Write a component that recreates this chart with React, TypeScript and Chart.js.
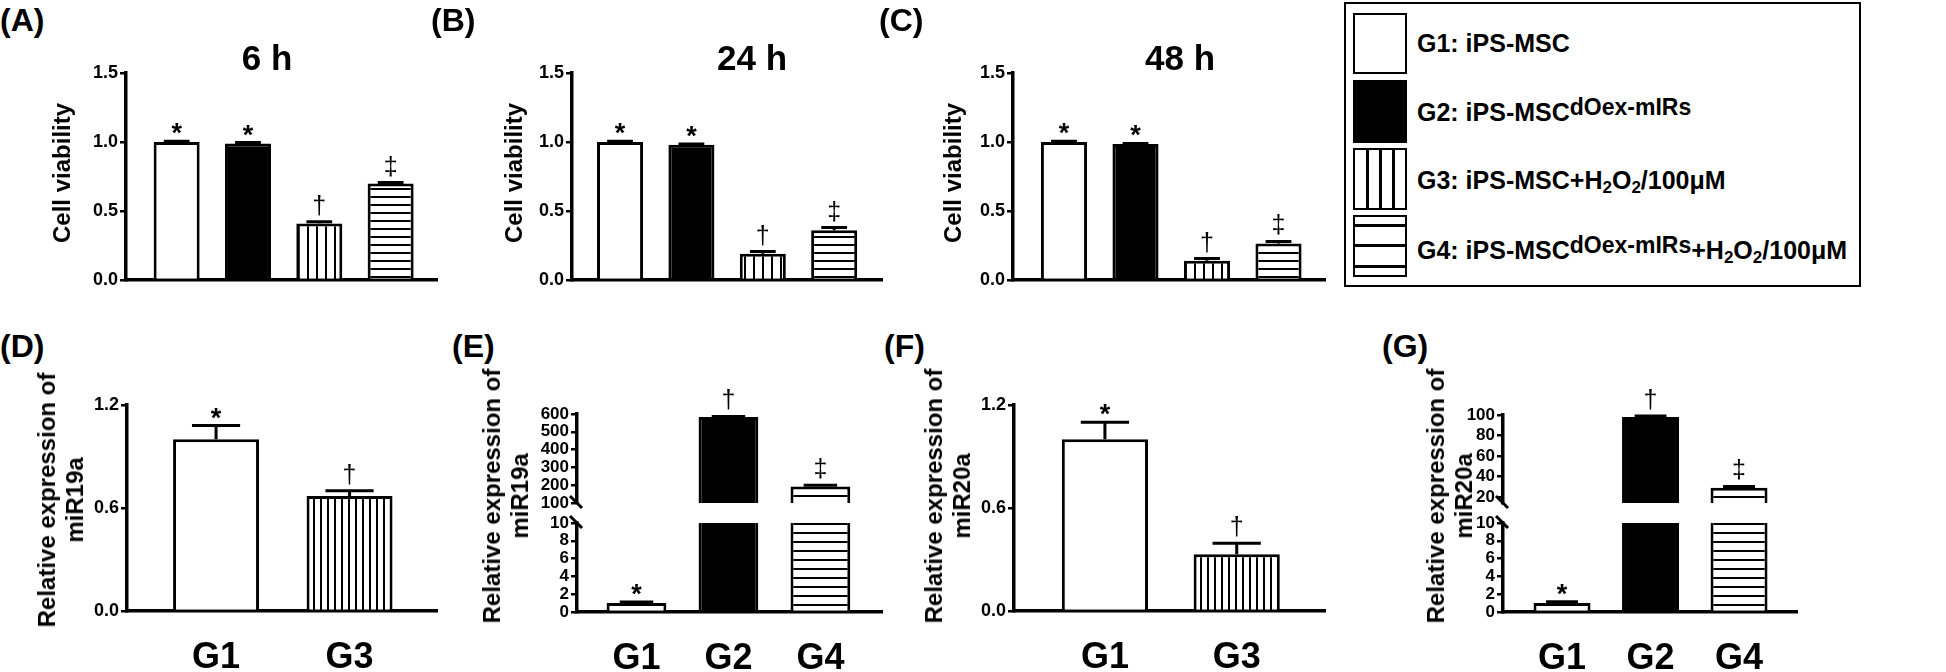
import React, { useEffect, useRef } from 'react';
import { Chart, registerables } from 'chart.js';

Chart.register(...registerables);

const FONT = '"Liberation Sans", Arial, Helvetica, sans-serif';

// ---------------- Data ----------------
const viabilityGroups = ['G1', 'G2', 'G3', 'G4'];
const viabilitySymbols = ['*', '*', '†', '‡'];
const viabilityTicks = [0, 0.5, 1.0, 1.5];
const viability6h = [1.0, 0.99, 0.41, 0.7];
const viability6hErr = [0.005, 0.006, 0.012, 0.006];
const viability24h = [1.0, 0.98, 0.19, 0.36];
const viability24hErr = [0.005, 0.006, 0.016, 0.02];
const viability48h = [1.0, 0.985, 0.14, 0.265];
const viability48hErr = [0.005, 0.005, 0.015, 0.014];

const pairGroups = ['G1', 'G3'];
const pairSymbols = ['*', '†'];
const pairTicks = [0, 0.6, 1.2];
const miR19aPair = [1.0, 0.67];
const miR19aPairErr = [0.08, 0.03];
const miR20aPair = [1.0, 0.33];
const miR20aPairErr = [0.1, 0.065];

const tripleGroups = ['G1', 'G2', 'G4'];
const tripleSymbols = ['*', '†', '‡'];
const lowTicks = [0, 2, 4, 6, 8, 10];
const miR19aHighTicks = [100, 200, 300, 400, 500, 600];
const miR19aTriple = [1.0, 583, 193];
const miR19aTripleErr = [0.12, 3, 7];
const miR20aHighTicks = [20, 40, 60, 80, 100];
const miR20aTriple = [1.0, 98, 29];
const miR20aTripleErr = [0.15, 1, 1.2];

// ---------------- Layout specs ----------------
type Area = { left: number; top: number; right: number; bottom: number };
type Spec = {
  id: string;
  labels: string[];
  values: number[];
  errors: number[];
  symbols: string[];
  ticks: number[];
  yMin: number;
  yMax: number;
  dec: number;
  tickFont: number;
  area: Area;
  xMin: number;
  xMax: number;
  barPct: number;
  xAxis: 'line' | 'labels' | 'none';
  segment?: 'upper' | 'lower';
  hatchV: number;
  hatchH: number;
};

const specs: Spec[] = [
  {
    id: 'A', labels: viabilityGroups, values: viability6h, errors: viability6hErr, symbols: viabilitySymbols,
    ticks: viabilityTicks, yMin: 0, yMax: 1.5, dec: 1, tickFont: 18,
    area: { left: 126, top: 73, right: 437, bottom: 280 }, xMin: -0.71, xMax: 3.65, barPct: 0.645,
    xAxis: 'line', hatchV: 9, hatchH: 8,
  },
  {
    id: 'B', labels: viabilityGroups, values: viability24h, errors: viability24hErr, symbols: viabilitySymbols,
    ticks: viabilityTicks, yMin: 0, yMax: 1.5, dec: 1, tickFont: 18,
    area: { left: 572, top: 73, right: 882, bottom: 280 }, xMin: -0.673, xMax: 3.67, barPct: 0.645,
    xAxis: 'line', hatchV: 9, hatchH: 8,
  },
  {
    id: 'C', labels: viabilityGroups, values: viability48h, errors: viability48hErr, symbols: viabilitySymbols,
    ticks: viabilityTicks, yMin: 0, yMax: 1.5, dec: 1, tickFont: 18,
    area: { left: 1013, top: 73, right: 1325, bottom: 280 }, xMin: -0.713, xMax: 3.65, barPct: 0.645,
    xAxis: 'line', hatchV: 9, hatchH: 8,
  },
  {
    id: 'D', labels: pairGroups, values: miR19aPair, errors: miR19aPairErr, symbols: pairSymbols,
    ticks: pairTicks, yMin: 0, yMax: 1.2, dec: 1, tickFont: 18,
    area: { left: 127, top: 405, right: 437, bottom: 611 }, xMin: -0.667, xMax: 1.655, barPct: 0.644,
    xAxis: 'labels', hatchV: 7, hatchH: 8,
  },
  {
    id: 'E-upper', labels: tripleGroups, values: miR19aTriple, errors: miR19aTripleErr, symbols: tripleSymbols,
    ticks: miR19aHighTicks, yMin: 100, yMax: 600, dec: 0, tickFont: 17,
    area: { left: 577, top: 414, right: 882, bottom: 503 }, xMin: -0.647, xMax: 2.67, barPct: 0.65,
    xAxis: 'none', segment: 'upper', hatchV: 7, hatchH: 9,
  },
  {
    id: 'E-lower', labels: tripleGroups, values: miR19aTriple, errors: miR19aTripleErr, symbols: tripleSymbols,
    ticks: lowTicks, yMin: 0, yMax: 10, dec: 0, tickFont: 17,
    area: { left: 577, top: 523, right: 882, bottom: 612 }, xMin: -0.647, xMax: 2.67, barPct: 0.65,
    xAxis: 'labels', segment: 'lower', hatchV: 7, hatchH: 9,
  },
  {
    id: 'F', labels: pairGroups, values: miR20aPair, errors: miR20aPairErr, symbols: pairSymbols,
    ticks: pairTicks, yMin: 0, yMax: 1.2, dec: 1, tickFont: 18,
    area: { left: 1014, top: 405, right: 1325, bottom: 611 }, xMin: -0.69, xMax: 1.67, barPct: 0.654,
    xAxis: 'labels', hatchV: 7, hatchH: 8,
  },
  {
    id: 'G-upper', labels: tripleGroups, values: miR20aTriple, errors: miR20aTripleErr, symbols: tripleSymbols,
    ticks: miR20aHighTicks, yMin: 14, yMax: 100, dec: 0, tickFont: 17,
    area: { left: 1503, top: 415, right: 1797, bottom: 503 }, xMin: -0.667, xMax: 2.655, barPct: 0.644,
    xAxis: 'none', segment: 'upper', hatchV: 7, hatchH: 9,
  },
  {
    id: 'G-lower', labels: tripleGroups, values: miR20aTriple, errors: miR20aTripleErr, symbols: tripleSymbols,
    ticks: lowTicks, yMin: 0, yMax: 10, dec: 0, tickFont: 17,
    area: { left: 1503, top: 523, right: 1797, bottom: 612 }, xMin: -0.667, xMax: 2.655, barPct: 0.644,
    xAxis: 'labels', segment: 'lower', hatchV: 7, hatchH: 9,
  },
];

function makePattern(ctx: CanvasRenderingContext2D, kind: 'v' | 'h', spacing: number) {
  const c = document.createElement('canvas');
  if (kind === 'v') {
    c.width = spacing;
    c.height = 4;
  } else {
    c.width = 4;
    c.height = spacing;
  }
  const t = c.getContext('2d')!;
  t.fillStyle = '#ffffff';
  t.fillRect(0, 0, c.width, c.height);
  t.fillStyle = '#000000';
  if (kind === 'v') t.fillRect(0, 0, 2, c.height);
  else t.fillRect(0, 0, c.width, 2);
  return ctx.createPattern(c, 'repeat')!;
}

const YW = 70;
const PADL = 10;
const PADT = 45;
const PADR = 12;

function ChartCanvas({ spec }: { spec: Spec }) {
  const ref = useRef<HTMLCanvasElement>(null);
  const xH = spec.xAxis === 'labels' ? 61 : spec.xAxis === 'line' ? 4 : 0;
  const PADB = spec.xAxis === 'labels' ? 0 : 12;
  const cx = spec.area.left - YW - PADL;
  const cy = spec.area.top - PADT;
  const cw = spec.area.right + PADR - cx;
  const ch = spec.area.bottom + xH + PADB - cy;

  useEffect(() => {
    const canvas = ref.current!;
    const ctx = canvas.getContext('2d')!;
    const vPat = makePattern(ctx, 'v', spec.hatchV);
    const hPat = makePattern(ctx, 'h', spec.hatchH);
    const fills = spec.labels.map((g) =>
      g === 'G1' ? '#ffffff' : g === 'G2' ? '#000000' : g === 'G3' ? vPat : hPat
    );

    const annotate = {
      id: 'annotate-' + spec.id,
      afterDatasetsDraw(chart: any) {
        const c = chart.ctx as CanvasRenderingContext2D;
        const y = chart.scales.y;
        const area = chart.chartArea;
        const meta = chart.getDatasetMeta(0);
        c.save();
        c.strokeStyle = '#000';
        c.fillStyle = '#000';
        c.lineWidth = 3;
        meta.data.forEach((bar: any, i: number) => {
          const v = spec.values[i];
          const e = spec.errors[i];
          const top = v + e;
          if (top < spec.yMin || top > spec.yMax * 1.0001) return;
          const p = bar.getProps(['x', 'y', 'width'], true);
          const yv = y.getPixelForValue(v);
          const ye = y.getPixelForValue(top);
          const half = p.width * 0.28;
          c.beginPath();
          c.moveTo(p.x, yv);
          c.lineTo(p.x, ye);
          c.moveTo(p.x - half, ye);
          c.lineTo(p.x + half, ye);
          c.stroke();
          const s = spec.symbols[i];
          c.textAlign = 'center';
          c.textBaseline = 'alphabetic';
          if (s === '*') {
            c.font = `bold 27px ${FONT}`;
            c.fillText(s, p.x, ye + 1);
          } else {
            c.font = `25px ${FONT}`;
            c.fillText(s, p.x, ye - 8);
          }
        });
        if (spec.segment) {
          const yy = spec.segment === 'upper' ? area.bottom : area.top;
          c.beginPath();
          c.moveTo(area.left - 7, yy - 7);
          c.lineTo(area.left + 5, yy + 5);
          c.stroke();
        }
        c.restore();
      },
    };

    const chart = new Chart(canvas, {
      type: 'bar',
      data: {
        datasets: [
          {
            data: spec.values.map((v, i) => ({ x: i, y: v })),
            backgroundColor: (c: any) => fills[c.dataIndex],
            borderColor: '#000000',
            borderWidth: 3,
            borderSkipped: spec.segment === 'upper' ? false : 'start',
            barPercentage: spec.barPct,
            categoryPercentage: 1,
            clip: 0,
          } as any,
        ],
      },
      options: {
        responsive: false,
        maintainAspectRatio: false,
        animation: false,
        devicePixelRatio: 1,
        layout: { padding: { left: PADL, top: PADT, right: PADR, bottom: PADB } },
        plugins: {
          legend: { display: false },
          tooltip: { enabled: false },
          title: { display: false },
        },
        scales: {
          x: {
            type: 'linear',
            offset: false,
            min: spec.xMin,
            max: spec.xMax,
            display: spec.xAxis !== 'none',
            afterBuildTicks: (s: any) => {
              s.ticks = spec.labels.map((_, i) => ({ value: i }));
            },
            afterFit: (s: any) => {
              s.height = xH;
            },
            grid: { display: false, drawTicks: false, offset: false },
            border: { display: true, color: '#000000', width: 3.5 },
            ticks: {
              display: spec.xAxis === 'labels',
              autoSkip: false,
              maxRotation: 0,
              padding: 29,
              color: '#000000',
              font: { family: FONT, size: 36, weight: 'bold', lineHeight: 1 },
              callback: (v: any) => spec.labels[Math.round(Number(v))] ?? '',
            },
          },
          y: {
            type: 'linear',
            min: spec.yMin,
            max: spec.yMax,
            afterBuildTicks: (s: any) => {
              s.ticks = spec.ticks.map((v) => ({ value: v }));
            },
            afterFit: (s: any) => {
              s.width = YW;
            },
            grid: { drawOnChartArea: false, drawTicks: true, tickLength: 6, color: '#000000', lineWidth: 2.5 },
            border: { display: true, color: '#000000', width: 3.5 },
            ticks: {
              autoSkip: false,
              padding: 2,
              color: '#000000',
              font: { family: FONT, size: spec.tickFont, weight: 'bold', lineHeight: 1 },
              callback: (v: any) => Number(v).toFixed(spec.dec),
            },
          },
        },
      } as any,
      plugins: [annotate],
    });
    return () => chart.destroy();
  }, []);

  return (
    <canvas
      ref={ref}
      width={cw}
      height={ch}
      style={{ position: 'absolute', left: cx, top: cy, width: cw, height: ch }}
    />
  );
}

const panelLetters = [
  { t: '(A)', x: 0, y: 4 },
  { t: '(B)', x: 431, y: 4 },
  { t: '(C)', x: 879, y: 4 },
  { t: '(D)', x: 0, y: 330 },
  { t: '(E)', x: 452, y: 330 },
  { t: '(F)', x: 884, y: 330 },
  { t: '(G)', x: 1382, y: 330 },
];

const timeTitles = [
  { t: '6 h', x: 267, y: 57 },
  { t: '24 h', x: 752, y: 57 },
  { t: '48 h', x: 1180, y: 57 },
];

const yTitles = [
  { lines: ['Cell viability'], x: 62, y: 173, size: 24 },
  { lines: ['Cell viability'], x: 514, y: 173, size: 24 },
  { lines: ['Cell viability'], x: 953, y: 173, size: 24 },
  { lines: ['Relative expression of', 'miR19a'], x: 61, y: 500, size: 24 },
  { lines: ['Relative expression of', 'miR19a'], x: 506, y: 496, size: 24 },
  { lines: ['Relative expression of', 'miR20a'], x: 948, y: 496, size: 24 },
  { lines: ['Relative expression of', 'miR20a'], x: 1450, y: 496, size: 24 },
];

const sup = { fontSize: 23, position: 'relative' as const, top: -6 };
const sub = { fontSize: 17, position: 'relative' as const, top: 4 };
const legendText = {
  position: 'absolute' as const,
  left: 1417,
  fontSize: 25,
  fontWeight: 'bold' as const,
  lineHeight: '28px',
  whiteSpace: 'nowrap' as const,
};

export default function App() {
  return (
    <div
      style={{
        position: 'absolute',
        left: 0,
        top: 0,
        width: 1946,
        height: 672,
        overflow: 'hidden',
        background: '#ffffff',
        fontFamily: FONT,
        color: '#000',
      }}
    >
      {specs.map((s) => (
        <ChartCanvas key={s.id} spec={s} />
      ))}

      {panelLetters.map((p) => (
        <div
          key={p.t}
          style={{ position: 'absolute', left: p.x, top: p.y, fontSize: 32, fontWeight: 'bold', lineHeight: '32px' }}
        >
          {p.t}
        </div>
      ))}

      {timeTitles.map((p) => (
        <div
          key={p.t}
          style={{
            position: 'absolute',
            left: p.x,
            top: p.y,
            transform: 'translate(-50%, -50%)',
            fontSize: 35,
            fontWeight: 'bold',
            lineHeight: '35px',
            whiteSpace: 'nowrap',
          }}
        >
          {p.t}
        </div>
      ))}

      {yTitles.map((p, i) => (
        <div
          key={i}
          style={{
            position: 'absolute',
            left: p.x,
            top: p.y,
            transform: 'translate(-50%, -50%) rotate(-90deg)',
            fontSize: p.size,
            fontWeight: 'bold',
            lineHeight: '28px',
            whiteSpace: 'nowrap',
            textAlign: 'center',
          }}
        >
          {p.lines.map((l, j) => (
            <div key={j}>{l}</div>
          ))}
        </div>
      ))}

      {/* Legend */}
      <div
        style={{
          position: 'absolute',
          left: 1344,
          top: 2,
          width: 517,
          height: 285,
          border: '2px solid #000',
          boxSizing: 'border-box',
        }}
      />
      <div style={{ position: 'absolute', left: 1353, top: 13, width: 54, height: 61, border: '2.5px solid #000', boxSizing: 'border-box', background: '#fff' }} />
      <div style={{ position: 'absolute', left: 1353, top: 80, width: 54, height: 63, border: '2.5px solid #000', boxSizing: 'border-box', background: '#000' }} />
      <div style={{ position: 'absolute', left: 1353, top: 148, width: 54, height: 62, border: '2.5px solid #000', boxSizing: 'border-box', background: '#fff' }}>
        {[11, 24, 37].map((x) => (
          <div key={x} style={{ position: 'absolute', left: x, top: 0, width: 3, height: '100%', background: '#000' }} />
        ))}
      </div>
      <div style={{ position: 'absolute', left: 1353, top: 215, width: 54, height: 62, border: '2.5px solid #000', boxSizing: 'border-box', background: '#fff' }}>
        {[7, 27, 48].map((y) => (
          <div key={y} style={{ position: 'absolute', left: 0, top: y, width: '100%', height: 3, background: '#000' }} />
        ))}
      </div>

      <div style={{ ...legendText, top: 29 }}>G1: iPS-MSC</div>
      <div style={{ ...legendText, top: 98 }}>
        G2: iPS-MSC<span style={sup}>dOex-mIRs</span>
      </div>
      <div style={{ ...legendText, top: 166 }}>
        G3: iPS-MSC+H<span style={sub}>2</span>O<span style={sub}>2</span>/100μM
      </div>
      <div style={{ ...legendText, top: 236 }}>
        G4: iPS-MSC<span style={sup}>dOex-mIRs</span>+H<span style={sub}>2</span>O<span style={sub}>2</span>/100μM
      </div>
    </div>
  );
}
